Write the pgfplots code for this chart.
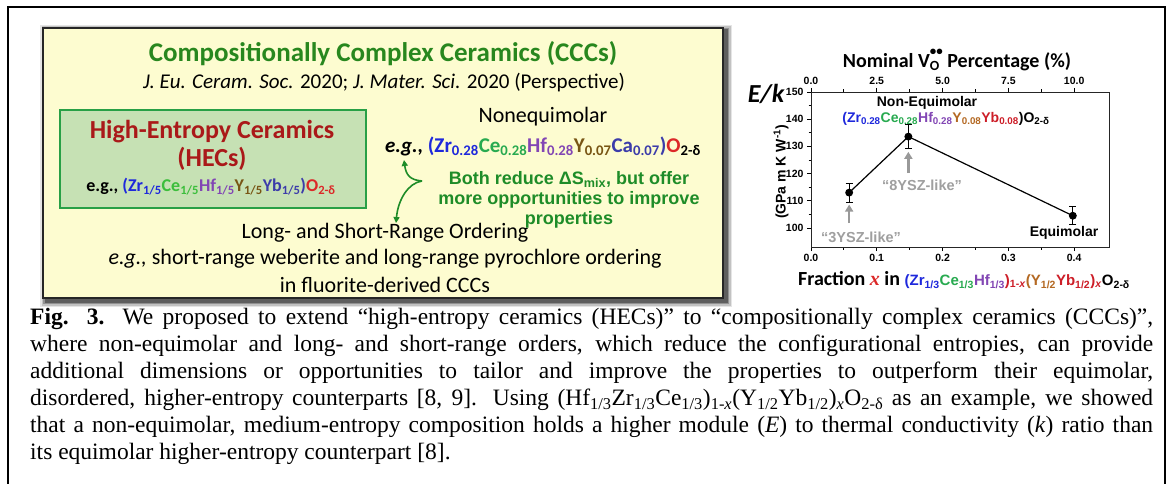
\documentclass[border=0pt]{standalone}
\usepackage{pgfplots}
\pgfplotsset{compat=1.18}
\usepackage{fontspec}
\usetikzlibrary{arrows.meta}
\setmainfont{Liberation Serif}
\newfontfamily\carl{Carlito}
\newfontfamily\ari{Liberation Sans}
\newcommand\sbs[1]{\textsubscript{#1}}
\definecolor{zr}{RGB}{30,40,220}
\definecolor{ce}{RGB}{40,170,80}
\definecolor{cel}{RGB}{60,190,60}
\definecolor{hf}{RGB}{130,70,180}
\definecolor{yy}{RGB}{180,105,35}
\definecolor{yl}{RGB}{120,85,20}
\definecolor{yb}{RGB}{205,30,40}
\definecolor{ybl}{RGB}{60,60,170}
\definecolor{ttl}{RGB}{40,135,30}
\definecolor{hec}{RGB}{170,25,25}
\definecolor{grn}{RGB}{30,140,40}
\definecolor{ylw}{RGB}{253,252,208}
\definecolor{gbox}{RGB}{198,225,180}
\definecolor{gbord}{RGB}{40,160,70}
\definecolor{ored}{RGB}{220,40,40}

\pgfplotstableread{
x y e
0.058 113.0 3.5
0.148 133.6 4.3
0.398 104.5 3.4
}\ekdata

\begin{document}
\begin{tikzpicture}[x=1pt,y=-1pt]
\path[use as bounding box] (0,0) rectangle (1171,484);
\fill[white] (0,0) rectangle (1171,484);
\draw[line width=1.6pt] (8,495) -- (8,7) -- (1165,7) -- (1165,495);

% ---------- left panel ----------
\foreach \d/\o in {6/0.10,4.5/0.15,3/0.25,1.5/0.35}{
  \fill[black,opacity=\o] (43-\d+3,28-\d+3) rectangle (723+\d+3,298+\d+3);
}
\draw[line width=2.2pt, draw=black!85, fill=ylw] (43,28) rectangle (723,298);

\node[font=\carl\bfseries\fontsize{27}{30}\selectfont, text=ttl] at (383,54) {Compositionally Complex Ceramics (CCCs)};
\node[font=\carl\fontsize{21}{24}\selectfont] at (384,83) {\textit{J. Eu. Ceram. Soc.} 2020; \textit{J. Mater. Sci.} 2020 (Perspective)};

\draw[line width=2pt, draw=gbord, fill=gbox] (60,110) rectangle (366,208);
\node[font=\carl\bfseries\fontsize{26}{29}\selectfont, text=hec] at (212,132) {High-Entropy Ceramics};
\node[font=\carl\bfseries\fontsize{26}{29}\selectfont, text=hec] at (212,159) {(HECs)};
\node[font=\carl\bfseries\fontsize{18}{20}\selectfont] at (211,187) {e.g., \textcolor{zr}{(Zr\sbs{1/5}}\textcolor{cel}{Ce\sbs{1/5}}\textcolor{hf}{Hf\sbs{1/5}}\textcolor{yl}{Y\sbs{1/5}}\textcolor{ybl}{Yb\sbs{1/5})}\textcolor{ored}{O\sbs{2-δ}}};

\node[font=\carl\fontsize{22}{24}\selectfont] at (543,117) {Nonequimolar};
\node[font=\carl\bfseries\fontsize{21}{24}\selectfont] at (543,146) {\textit{e.g.,} \textcolor{zr}{(Zr\sbs{0.28}}\textcolor{ce}{Ce\sbs{0.28}}\textcolor{hf}{Hf\sbs{0.28}}\textcolor{yl}{Y\sbs{0.07}}\textcolor{ybl}{Ca\sbs{0.07})}\textcolor{ored}{O}\sbs{2-δ}};

\node[font=\ari\bfseries\fontsize{18}{20}\selectfont, text=grn, align=center] at (569,200) {Both reduce ΔS\sbs{mix}, but offer\\more opportunities to improve\\properties};

\draw[grn, line width=1.6pt, -{Triangle[length=6pt,width=6pt]}] (422,181) .. controls (410,180) and (406,175) .. (404,160);
\draw[grn, line width=1.6pt, -{Triangle[length=6pt,width=6pt]}] (422,181) .. controls (408,183) and (398,200) .. (396,223);

\node[font=\carl\fontsize{22}{24}\selectfont] at (385,233) {Long- and Short-Range Ordering};
\node[font=\carl\fontsize{22}{24}\selectfont] at (385,259) {\textit{e.g.,} short-range weberite and long-range pyrochlore ordering};
\node[font=\carl\fontsize{22}{24}\selectfont] at (385,285) {in fluorite-derived CCCs};

% ---------- caption ----------
\node[anchor=north west, inner sep=0pt, text width=1123pt, align=justify, font=\fontsize{23.5}{27}\selectfont] at (30,308) {\hyphenpenalty=10000\exhyphenpenalty=10000
\textbf{Fig. 3.} We proposed to extend “high-entropy ceramics (HECs)” to “compositionally complex ceramics (CCCs)”,\linebreak
where non-equimolar and long- and short-range orders, which reduce the configurational entropies, can provide\linebreak
additional dimensions or opportunities to tailor and improve the properties to outperform their equimolar,\linebreak
disordered, higher-entropy counterparts [8, 9]. Using (Hf\sbs{1/3}Zr\sbs{1/3}Ce\sbs{1/3})\sbs{1-\textit{x}}(Y\sbs{1/2}Yb\sbs{1/2})\sbs{\textit{x}}O\sbs{2-δ} as an example, we showed\linebreak
that a non-equimolar, medium-entropy composition holds a higher module (\textit{E}) to thermal conductivity (\textit{k}) ratio than\linebreak
its equimolar higher-entropy counterpart [8].};

% ---------- chart ----------
\begin{axis}[
  at={(811pt,-247pt)}, anchor=south west,
  scale only axis, width=298pt, height=155pt,
  xmin=0, xmax=0.453, ymin=93, ymax=150,
  axis line style={line width=0.9pt, black!85},
  xtick={0,0.1,0.2,0.3,0.4}, minor xtick={0.05,0.15,0.25,0.35},
  ytick={100,110,120,130,140,150}, minor ytick={105,115,125,135,145},
  tick align=outside, xtick pos=bottom, ytick pos=left,
  tick style={black, line width=0.8pt},
  major tick length=4pt, minor tick length=2.5pt,
  /pgf/number format/assume math mode=true,
  ticklabel style={font=\ari\bfseries\fontsize{10.5}{12}\selectfont},
  xticklabel style={/pgf/number format/.cd, fixed, fixed zerofill, precision=1},
  yticklabel style={/pgf/number format/.cd, fixed, precision=0},
  clip=false,
]
\addplot[black, line width=1.2pt, mark=*, mark size=3.3pt,
  error bars/.cd, y dir=both, y explicit,
  error bar style={line width=1pt},
  error mark options={rotate=90, mark size=3.5pt, line width=1pt}]
  table[x=x, y=y, y error=e] {\ekdata};
\draw[gray!80, line width=2.4pt, -{Triangle[length=7pt,width=8pt]}] (axis cs:0.148,120.2) -- (axis cs:0.148,128.0);
\draw[gray!80, line width=2.4pt, -{Triangle[length=7pt,width=8pt]}] (axis cs:0.058,101.8) -- (axis cs:0.058,108.6);
\end{axis}
\begin{axis}[
  at={(811pt,-247pt)}, anchor=south west,
  scale only axis, width=298pt, height=155pt,
  xmin=0, xmax=11.325, ymin=93, ymax=150,
  hide y axis, axis x line*=top,
  axis line style={line width=0.9pt, black!85},
  xtick={0,2.5,5,7.5,10}, minor xtick={1.25,3.75,6.25,8.75},
  tick align=outside,
  tick style={black, line width=0.8pt},
  major tick length=4pt, minor tick length=2.5pt,
  /pgf/number format/assume math mode=true,
  ticklabel style={font=\ari\bfseries\fontsize{10.5}{12}\selectfont},
  xticklabel style={/pgf/number format/.cd, fixed, fixed zerofill, precision=1},
]
\end{axis}

\node[font=\ari\bfseries\fontsize{14}{16}\selectfont] at (927,103) {Non-Equimolar};
\node[font=\ari\bfseries\fontsize{14}{16}\selectfont] at (946,119) {\textcolor{zr}{(Zr\sbs{0.28}}\textcolor{ce}{Ce\sbs{0.28}}\textcolor{hf}{Hf\sbs{0.28}}\textcolor{yy}{Y\sbs{0.08}}\textcolor{yb}{Yb\sbs{0.08}})O\sbs{2-δ}};
\node[font=\ari\bfseries\fontsize{14.5}{16}\selectfont, text=gray!75] at (922,185) {“8YSZ-like”};
\node[font=\ari\bfseries\fontsize{14.5}{16}\selectfont, text=gray!75] at (861,237) {“3YSZ-like”};
\node[font=\ari\bfseries\fontsize{14}{16}\selectfont] at (1064,233) {Equimolar};
\node[font=\carl\bfseries\itshape\fontsize{26}{28}\selectfont, inner sep=1pt] at (766,94) {E/k};
\node[font=\ari\bfseries\fontsize{14}{16}\selectfont, rotate=90] at (781,172) {(GPa m K W\textsuperscript{-1})};
\node[font=\carl\bfseries\fontsize{20}{22}\selectfont] at (957,60) {Nominal V\rlap{\raisebox{0.6em}{\fontsize{13}{13}\selectfont ••}}\sbs{O}\hspace{0.15em} Percentage (\%)};
\node[font=\carl\bfseries\fontsize{20}{22}\selectfont] at (964,280) {Fraction \textcolor{ored}{\fontspec{Liberation Serif}\bfseries\itshape x} in {\ari\fontsize{15}{16}\selectfont\textcolor{zr}{(Zr\sbs{1/3}}\textcolor{ce}{Ce\sbs{1/3}}\textcolor{hf}{Hf\sbs{1/3}}\textcolor{yb}{)\sbs{1-\textit{x}}}\textcolor{yy}{(Y\sbs{1/2}}\textcolor{yb}{Yb\sbs{1/2})\sbs{\textit{x}}}O\sbs{2-δ}}};
\end{tikzpicture}
\end{document}
